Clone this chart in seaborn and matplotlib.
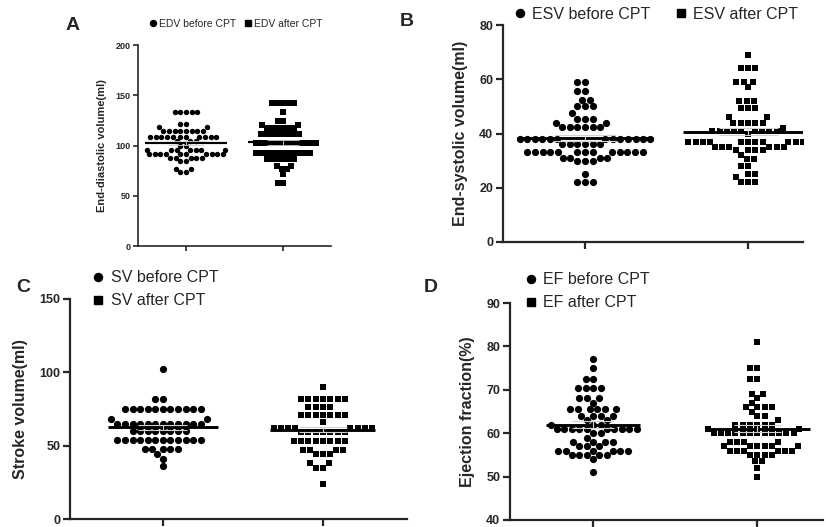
import numpy as np
import pandas as pd
import seaborn as sns
import matplotlib.pyplot as plt
from matplotlib.lines import Line2D

sns.set_style("ticks")
plt.rcParams['font.family'] = ['Liberation Sans', 'DejaVu Sans']

groups = ["before", "after"]

# values, row by row (GraphPad scatter dot plots)
edv_before = [133] * 5 + [121] * 2 + [118] * 2 + [114] * 8 + [108] * 11 + [104] * 3 \
    + [100] * 2 + [96] * 7 + [92] * 10 + [88] * 5 + [85, 85] + [77] * 2 + [74] * 2
edv_after = [142] * 5 + [133] + [124] * 2 + [120] * 2 + [117] * 6 + [111] * 8 + [102] * 12 \
    + [93] * 11 + [87] * 6 + [80] * 2 + [77] * 2 + [72] + [63] * 2

esv_before = [59] * 2 + [55.5] * 2 + [52.5] * 2 + [50] * 3 + [47.5] + [45.5] * 3 + [44] * 2 + [42.5] * 6 \
    + [38] * 13 + [36] * 6 + [33] * 13 + [31] * 4 + [30] * 3 + [25] + [22] * 3
esv_after = [69] + [64] * 3 + [59] * 3 + [57] + [52] * 3 + [49.5] * 3 + [46] * 2 + [44] * 5 + [42] \
    + [41] * 9 + [40] + [37] * 12 + [35] * 6 + [34] * 4 + [32] + [30.5] * 2 + [28] * 2 + [25] * 2 \
    + [24] + [22] * 3

sv_before = [102] + [82] * 2 + [75] * 11 + [68] * 2 + [65] * 12 + [60] * 8 + [54] * 12 + [48] * 5 \
    + [44, 41, 36]
sv_after = [90] + [82] * 7 + [76.5] * 4 + [71] * 7 + [66] + [62] * 8 + [59] * 7 + [53] * 8 \
    + [47] * 4 + [44] * 3 + [38] * 2 + [35] * 2 + [24]

ef_before = [77, 75] + [72.5] * 2 + [70.5] * 4 + [68] * 3 + [67] + [65.5] * 6 + [64] * 4 + [63] * 2 \
    + [62] * 3 + [61] * 10 + [60, 60, 59] + [58] * 4 + [57] * 3 + [56] * 6 + [55] * 5 + [54, 51]
ef_after = [81] + [75] * 2 + [72.5] * 2 + [69] * 2 + [68, 67] + [66] * 4 + [65] + [64] * 2 + [63] \
    + [62] * 6 + [61] * 2 + [60] * 12 + [58] * 4 + [57] * 6 + [56] * 6 + [55] * 4 + [53.5] * 2 \
    + [52, 50]

W, H = 826, 527
fig = plt.figure(figsize=(W / 100, H / 100), dpi=100)


def px_axes(x0, y0, x1, y1):
    # pixel box (left, top, right, bottom) -> figure axes
    return fig.add_axes([x0 / W, (H - y1) / H, (x1 - x0) / W, (y1 - y0) / H])


def panel(ax, before, after, name, ylabel, yticks, xlim, msize, legsize, fs, lw, lfs):
    df = pd.DataFrame({"group": ["before"] * len(before) + ["after"] * len(after),
                       "value": before + after})
    for g, mk, s in [("before", "o", msize), ("after", "s", msize * 0.96)]:
        sub = df[df.group == g]
        sns.swarmplot(data=sub, x="group", y="value", order=groups, marker=mk,
                      color="black", size=s, linewidth=0, ax=ax, warn_thresh=1)
    ax.set_xlim(*xlim)
    ax.set_ylim(yticks[0], yticks[-1])
    ax.set_yticks(yticks)
    ax.set_yticklabels([str(t) for t in yticks], fontweight="bold", fontsize=fs)
    ax.set_xticks([0, 1])
    ax.set_xticklabels(["", ""])
    ax.set_xlabel("")
    ax.set_ylabel(ylabel, fontweight="bold", fontsize=lfs, labelpad=fs * 0.9)
    sns.despine(ax=ax)
    for sp in ["left", "bottom"]:
        ax.spines[sp].set_linewidth(lw)
    ax.tick_params(width=lw, length=fs * 0.55, pad=2)
    handles = [Line2D([], [], marker="o", ls="", color="black", markersize=legsize, label=f"{name} before CPT"),
               Line2D([], [], marker="s", ls="", color="black", markersize=legsize * 0.92, label=f"{name} after CPT")]
    return handles


def mean_sem(ax, before, after, lw):
    # mean line as wide as the swarm, SEM whiskers in light grey
    half = {0: 0.3, 1: 0.3}
    for coll in list(ax.collections):
        offs = np.asarray(coll.get_offsets())
        if len(offs) == 0:
            continue
        i = int(round(offs[:, 0].mean()))
        half[i] = min(np.max(np.abs(offs[:, 0] - i)) + 0.02, 0.45)
    for i, vals in enumerate([before, after]):
        vals = np.asarray(vals, dtype=float)
        m = vals.mean()
        sem = vals.std(ddof=1) / np.sqrt(len(vals))
        h = half[i]
        ax.hlines(m, i - h, i + h, color="black", lw=lw * 1.3, zorder=5)
        ax.hlines([m - sem, m + sem], i - h * 0.45, i + h * 0.45, color="#d0d0d0", lw=lw * 0.5, zorder=6)
        ax.vlines(i, m - sem, m + sem, color="#d0d0d0", lw=lw * 0.5, zorder=6)


axA = px_axes(138, 45, 331, 246)
hA = panel(axA, edv_before, edv_after, "EDV", "End-diastolic volume(ml)", [0, 50, 100, 150, 200],
           (-0.495, 1.495), 3.9, 4.3, 6.5, 1.2, 8)
axA.legend(handles=hA, loc="lower left", bbox_to_anchor=(0.03, 1.06), ncol=2, frameon=False,
           fontsize=7.5, handletextpad=0.1, columnspacing=0.6, handlelength=1, borderaxespad=0)

axB = px_axes(503, 25, 803, 242)
hB = panel(axB, esv_before, esv_after, "ESV", "End-systolic volume(ml)", [0, 20, 40, 60, 80],
           (-0.503, 1.337), 5.2, 5.8, 9, 1.6, 11.5)
axB.legend(handles=hB, loc="lower left", bbox_to_anchor=(0.01, 0.985), ncol=2, frameon=False,
           fontsize=11.5, handletextpad=0.25, columnspacing=1.4, handlelength=1, borderaxespad=0)

axC = px_axes(70, 299, 407, 519)
hC = panel(axC, sv_before, sv_after, "SV", "Stroke volume(ml)", [0, 50, 100, 150],
           (-0.58, 1.525), 5.2, 5.8, 9, 1.6, 11.5)
axC.legend(handles=hC, loc="upper left", bbox_to_anchor=(0.04, 1.16), ncol=1, frameon=False,
           fontsize=11.5, handletextpad=0.3, labelspacing=0.5, handlelength=1, borderaxespad=0)

axD = px_axes(510, 303, 823, 520)
hD = panel(axD, ef_before, ef_after, "EF", "Ejection fraction(%)", [40, 50, 60, 70, 80, 90],
           (-0.506, 1.40), 5.2, 5.8, 9, 1.6, 11.5)
axD.legend(handles=hD, loc="upper left", bbox_to_anchor=(0.02, 1.17), ncol=1, frameon=False,
           fontsize=11.5, handletextpad=0.3, labelspacing=0.5, handlelength=1, borderaxespad=0)

for lbl, x, y in [("A", 66, 26), ("B", 400, 22), ("C", 16, 287), ("D", 424, 287)]:
    fig.text(x / W, 1 - y / H, lbl, fontsize=14, fontweight="bold", va="center", ha="left")

# swarm positions are only known after a draw
fig.canvas.draw()
for ax, b, a, lw in [(axA, edv_before, edv_after, 1.2), (axB, esv_before, esv_after, 1.6),
                     (axC, sv_before, sv_after, 1.6), (axD, ef_before, ef_after, 1.6)]:
    mean_sem(ax, b, a, lw)

fig.savefig("out.png", dpi=100)
